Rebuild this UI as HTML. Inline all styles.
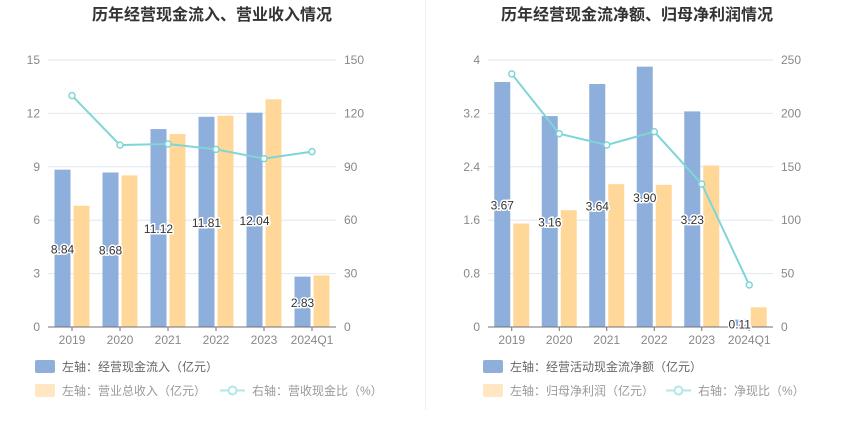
<!DOCTYPE html>
<html><head><meta charset="utf-8">
<style>
body{margin:0;background:#fff;width:850px;height:437px;overflow:hidden;font-family:"Liberation Sans","Noto Sans CJK SC",sans-serif;}
svg text{font-family:"Liberation Sans","Noto Sans CJK SC",sans-serif;}
</style></head>
<body>
<svg id="c" width="850" height="437" xmlns="http://www.w3.org/2000/svg">
<line x1="425.5" y1="0" x2="425.5" y2="410" stroke="#eeeeee"/>
<text x="212" y="20" text-anchor="middle" font-size="16" font-weight="bold" fill="#333">历年经营现金流入、营业收入情况</text>
<text x="637" y="20" text-anchor="middle" font-size="16" font-weight="bold" fill="#333">历年经营现金流净额、归母净利润情况</text>
</svg>
<script>
const categories=["2019","2020","2021","2022","2023","2024Q1"];
const leftBlue=[8.84,8.68,11.12,11.81,12.04,2.83];
const leftOrange=[6.81,8.52,10.84,11.87,12.79,2.90];
const leftLine=[130,102.2,102.8,99.8,94.6,98.5];
const leftTicksL=[0,3,6,9,12,15];
const leftTicksR=[0,30,60,90,120,150];
const rightBlue=[3.67,3.16,3.64,3.90,3.23,0.11];
const rightOrange=[1.55,1.75,2.14,2.13,2.42,0.295];
const rightLine=[237,181,170.4,182.9,133.9,39.3];
const rightTicksL=[0,0.8,1.6,2.4,3.2,4];
const rightTicksR=[0,50,100,150,200,250];
const leftLegend=["左轴：经营现金流入（亿元）","左轴：营业总收入（亿元）","右轴：营收现金比（%）"];
const rightLegend=["左轴：经营活动现金流净额（亿元）","左轴：归母净利润（亿元）","右轴：净现比（%）"];

const svg=document.getElementById('c');
const NS="http://www.w3.org/2000/svg";
function mk(tag,attrs,parent){const e=document.createElementNS(NS,tag);for(const k in attrs)e.setAttribute(k,attrs[k]);(parent||svg).appendChild(e);return e;}

function chart(pfx,x0,x1,blue,orange,line,tl,tr,leg,lx,ix){
  const y0=327,y1=60;
  const g=mk('g',{});
  
  
  const lmax=tl[tl.length-1],rmax=tr[tr.length-1];
  const yL=v=>y0-(v/lmax)*(y0-y1);
  const yR=v=>y0-(v/rmax)*(y0-y1);
  const band=(x1-x0)/categories.length;
  const xc=i=>x0+band*(i+0.5);
  tl.forEach((t,i)=>{
    const y=yL(t);
    if(i>0){const gl=mk('line',{x1:x0,x2:x1,y1:y,y2:y,stroke:'#e0e6f1'},g);
      
      }
    const a=mk('text',{x:x0-8,y:y+4,'text-anchor':'end','font-size':12,fill:'#888'},g);a.textContent=t;
    
    
    const b=mk('text',{x:x1+8,y:yR(tr[i])+4,'font-size':12,fill:'#888'},g);b.textContent=tr[i];
    
    
  });
  categories.forEach((c,i)=>{
    const bb=mk('rect',{x:xc(i)-17.5,y:yL(blue[i]),width:16,height:y0-yL(blue[i]),fill:'#8eaedb'},g);
    
    
    const ob=mk('rect',{x:xc(i)+1.5,y:yL(orange[i]),width:16,height:y0-yL(orange[i]),fill:'#ffd899'},g);
    
    
    const tk=mk('line',{x1:xc(i),x2:xc(i),y1:y0,y2:y0+4,stroke:'#6e7079'},g);
    
    
    const xl=mk('text',{x:xc(i),y:y0+17,'text-anchor':'middle','font-size':12,fill:'#888'},g);xl.textContent=c;
    
    
  });
  const ax=mk('line',{x1:x0,x2:x1,y1:y0,y2:y0,stroke:'#6e7079'},g);
  
  
  categories.forEach((c,i)=>{
    const v=blue[i];const yy=(yL(v)+y0)/2+5;
    const lbl=mk('text',{x:xc(i)-9.5,y:yy,'text-anchor':'middle','font-size':12,fill:'#333',stroke:'#fff','stroke-width':3,'paint-order':'stroke'},g);
    lbl.textContent=v.toFixed(2);
    
    
  });
  const pts=line.map((v,i)=>xc(i)+','+yR(v)).join(' ');
  const pl=mk('polyline',{points:pts,fill:'none',stroke:'#80d5d6','stroke-width':2},g);
  
  
  line.forEach((v,i)=>{const p=mk('circle',{cx:xc(i),cy:yR(v),r:3,fill:'#fff',stroke:'#80d5d6','stroke-width':1.5},g);
    
    });
  const l1=mk('rect',{x:lx,y:360,width:20,height:13,rx:2,fill:'#8eaedb'},g);
  
  
  const t1=mk('text',{x:lx+27,y:371,'font-size':12,fill:'#666'},g);t1.textContent=leg[0];
  
  
  const l2=mk('rect',{x:lx,y:384,width:20,height:13,rx:2,fill:'#ffe7c2'},g);
  
  
  const t2=mk('text',{x:lx+27,y:395,'font-size':12,fill:'#999'},g);t2.textContent=leg[1];
  
  
  const li=mk('line',{x1:ix,x2:ix+25,y1:390.5,y2:390.5,stroke:'#b3e6e7','stroke-width':2},g);
  
  
  const lc=mk('circle',{cx:ix+12.5,cy:390.5,r:4,fill:'#fff',stroke:'#b3e6e7','stroke-width':2},g);
  
  
  const t3=mk('text',{x:ix+32,y:395,'font-size':12,fill:'#999'},g);t3.textContent=leg[2];
  
  
}
chart('left',48,336,leftBlue,leftOrange,leftLine,leftTicksL,leftTicksR,leftLegend,35,220);
chart('right',488,773,rightBlue,rightOrange,rightLine,rightTicksL,rightTicksR,rightLegend,483,666);
</script>
</body></html>
